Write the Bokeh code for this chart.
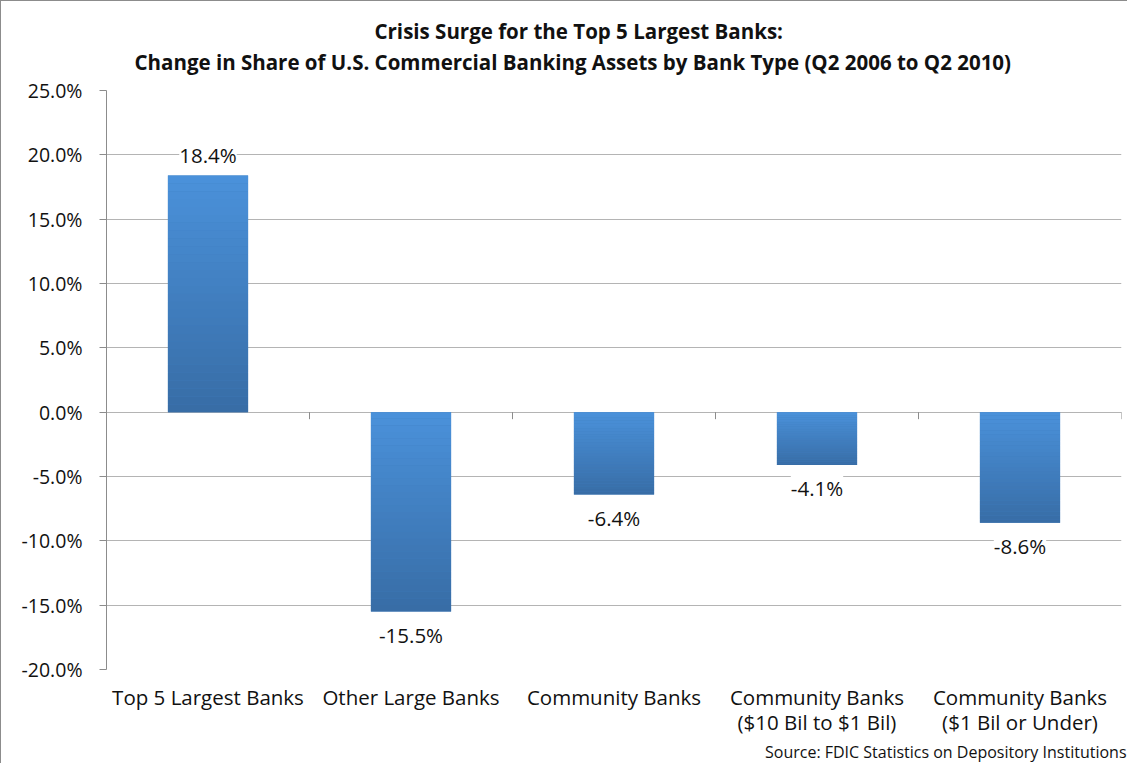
import numpy as np
from bokeh.plotting import figure
from bokeh.models import (Range1d, FixedTicker, NumeralTickFormatter,
                          ColumnDataSource, LabelSet, Title)
from bokeh.core.properties import value
from bokeh.embed import file_html
from bokeh.resources import INLINE

categories = ["Top 5 Largest Banks", "Other Large Banks", "Community Banks",
              "Community Banks\n($10 Bil to $1 Bil)",
              "Community Banks\n($1 Bil or Under)"]
values = [0.184, -0.155, -0.064, -0.041, -0.086]
y_ticks = [-0.20, -0.15, -0.10, -0.05, 0.0, 0.05, 0.10, 0.15, 0.20, 0.25]
title_lines = ["Crisis Surge for the Top 5 Largest Banks:",
               "Change in Share of U.S. Commercial Banking Assets by Bank Type (Q2 2006 to Q2 2010)"]
source_note = "Source: FDIC Statistics on Depository Institutions"

FONT = "Open Sans"
FS = "20.5px"
W, H = 1127, 763
ML, MR, MT, MB = 105, 7, 89, 95
frame_h = H - MT - MB
ymin, ymax = y_ticks[0], y_ticks[-1]
px_per_unit = frame_h / (ymax - ymin)

p = figure(width=W, height=H, output_backend="svg", toolbar_location=None,
           x_range=Range1d(0, len(categories)), y_range=Range1d(ymin, ymax),
           min_border_left=ML, min_border_right=MR, min_border_top=MT,
           min_border_bottom=MB, title=None)
p.styles = {"border-left": "1px solid #8c8c8c", "border-top": "1px solid #8c8c8c"}
p.outline_line_color = None
p.background_fill_color = "white"
p.border_fill_color = "white"

# grid
p.xgrid.visible = False
p.ygrid.ticker = FixedTicker(ticks=y_ticks)
p.ygrid.grid_line_color = "#b4b4b4"
p.ygrid.grid_line_width = 1

# y axis
p.yaxis.ticker = FixedTicker(ticks=y_ticks)
p.yaxis.formatter = NumeralTickFormatter(format="0.0%")
p.yaxis.axis_line_color = "#8c8c8c"
p.yaxis.major_tick_line_color = "#8c8c8c"
p.yaxis.major_tick_out = 7
p.yaxis.major_tick_in = 0
p.yaxis.minor_tick_line_color = None
p.yaxis.major_label_standoff = 17
p.yaxis.major_label_text_font = FONT
p.yaxis.major_label_text_font_size = "19.5px"
p.yaxis.major_label_text_color = "#111111"

# x axis (category labels at bottom)
centers = [i + 0.5 for i in range(len(categories))]
p.xaxis.ticker = FixedTicker(ticks=centers)
p.xaxis.major_label_overrides = {c: lab for c, lab in zip(centers, categories)}
p.xaxis.axis_line_color = None
p.xaxis.major_tick_line_color = None
p.xaxis.minor_tick_line_color = None
p.xaxis.major_label_standoff = 7
p.xaxis.major_label_text_font = FONT
p.xaxis.major_label_text_font_size = FS
p.xaxis.major_label_text_line_height = 0.9
p.xaxis.major_label_text_color = "#111111"

# zero-line category boundary ticks
bounds = list(range(len(categories) + 1))
tick_len = 7 / px_per_unit
p.segment(x0=bounds, x1=bounds, y0=[0] * len(bounds), y1=[-tick_len] * len(bounds),
          line_color="#8c8c8c", line_width=1)

# bars with vertical gradient
bar_w = 0.395
c_top = np.array([75, 146, 219])
c_bot = np.array([56, 109, 166])
tops = [max(v, 0) for v in values]
bots = [min(v, 0) for v in values]
mid = "#%02x%02x%02x" % tuple(((c_top + c_bot) / 2).astype(int))
p.vbar(x=centers, width=bar_w, top=tops, bottom=bots, fill_color=mid, line_color=None)
N = 30
xs, t0s, t1s, cols = [], [], [], []
for x, t, b in zip(centers, tops, bots):
    for k in range(N):
        f = (k + 0.5) / N
        c = (c_top * (1 - f) + c_bot * f).astype(int)
        xs.append(x)
        t0s.append(t - (t - b) * k / N)
        t1s.append(t - (t - b) * (k + 1) / N)
        cols.append("#%02x%02x%02x" % tuple(c))
p.vbar(x=xs, width=bar_w, top=t0s, bottom=t1s, fill_color=cols, line_color=None)

# data labels
lab_src = ColumnDataSource(dict(
    x=centers, y=values,
    text=[f"{v * 100:.1f}%" for v in values],
    yoff=[20 if v >= 0 else -23 for v in values]))
p.add_layout(LabelSet(x="x", y="y", text="text", source=lab_src, y_offset="yoff",
                      text_align="center", text_baseline="middle",
                      text_font=value(FONT), text_font_size=FS, text_color="#111111",
                      background_fill_color="white"))

# titles (later-added titles sit further from the frame)
p.add_layout(Title(text=" ", text_font_size="2px", standoff=10), "above")  # spacer
p.add_layout(Title(text=title_lines[1], align="left", offset=28, vertical_align="bottom",
                   text_font=FONT, text_font_style="bold", text_font_size="20.5px",
                   text_color="#111111", standoff=2), "above")
p.add_layout(Title(text=title_lines[0], align="left", offset=268, vertical_align="bottom",
                   text_font=FONT, text_font_style="bold", text_font_size="20.5px",
                   text_color="#111111", standoff=0), "above")
p.add_layout(Title(text=source_note, align="right", text_font=FONT,
                   text_font_style="normal", text_font_size="16px",
                   text_color="#111111", standoff=0, offset=-5), "below")

open("out.html", "w").write(file_html(p, INLINE))
